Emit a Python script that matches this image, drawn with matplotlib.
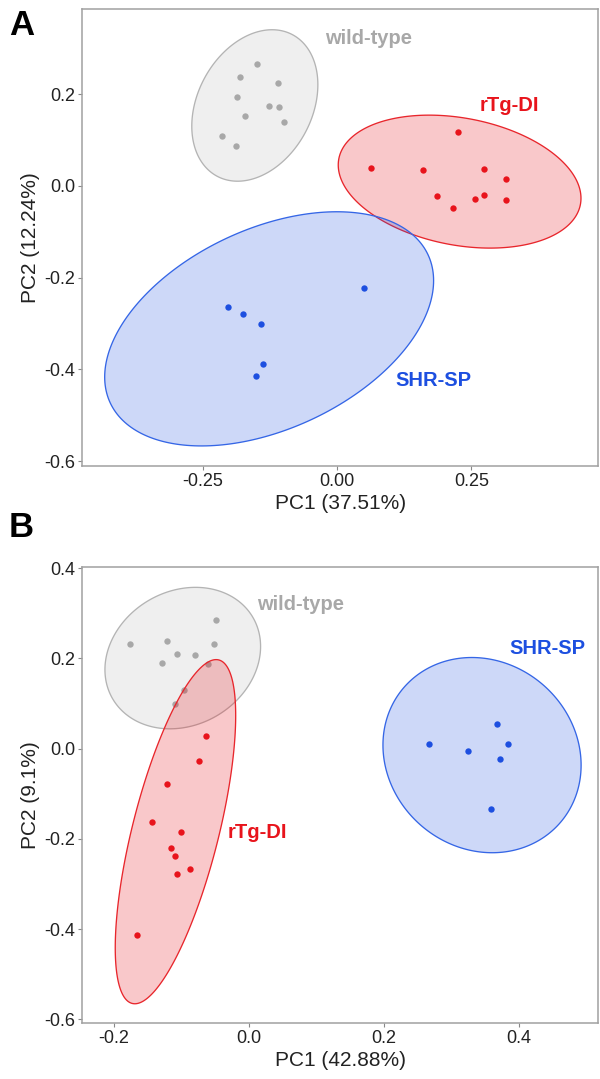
import numpy as np
import matplotlib
matplotlib.use("Agg")
import matplotlib.pyplot as plt
from matplotlib.colors import to_rgba

plt.rcParams["font.family"] = ["Liberation Sans", "DejaVu Sans"]

# Panel A (PC1 37.51%, PC2 12.24%)
a_wt_x = [-0.149, -0.181, -0.110, -0.186, -0.127, -0.109, -0.172, -0.099, -0.214, -0.188]
a_wt_y = [0.265, 0.237, 0.224, 0.194, 0.175, 0.172, 0.152, 0.139, 0.109, 0.086]
a_rtg_x = [0.225, 0.062, 0.160, 0.274, 0.314, 0.185, 0.256, 0.274, 0.314, 0.215]
a_rtg_y = [0.118, 0.038, 0.034, 0.036, 0.016, -0.022, -0.028, -0.019, -0.031, -0.049]
a_shr_x = [0.050, -0.204, -0.175, -0.142, -0.138, -0.152]
a_shr_y = [-0.222, -0.264, -0.279, -0.301, -0.389, -0.415]

# Panel B (PC1 42.88%, PC2 9.1%)
b_wt_x = [-0.049, -0.176, -0.122, -0.052, -0.107, -0.080, -0.129, -0.061, -0.096, -0.109]
b_wt_y = [0.285, 0.231, 0.238, 0.231, 0.209, 0.207, 0.190, 0.188, 0.129, 0.100]
b_rtg_x = [-0.064, -0.074, -0.122, -0.143, -0.100, -0.116, -0.110, -0.088, -0.106, -0.166]
b_rtg_y = [0.028, -0.027, -0.078, -0.162, -0.184, -0.221, -0.239, -0.266, -0.279, -0.413]
b_shr_x = [0.367, 0.267, 0.324, 0.383, 0.371, 0.358]
b_shr_y = [0.055, 0.010, -0.005, 0.010, -0.023, -0.133]

groups = ["wild-type", "rTg-DI", "SHR-SP"]
point_col = {"wild-type": "#a8a8a8", "rTg-DI": "#e8141c", "SHR-SP": "#1d4fe0"}
edge_col = {"wild-type": "#b4b4b4", "rTg-DI": "#e8262c", "SHR-SP": "#3566e6"}
fill_alpha = {"wild-type": 0.18, "rTg-DI": 0.23, "SHR-SP": 0.22}


def conf_ellipse(x, y, level=0.95, n_seg=240):
    # same idea as ggplot2 stat_ellipse (F based radius)
    pts = np.column_stack([x, y])
    n = len(pts)
    center = pts.mean(axis=0)
    cov = np.cov(pts, rowvar=False)
    d = n - 1
    q = d / 2 * ((1 - level) ** (-2 / d) - 1)
    radius = np.sqrt(2 * q)
    chol = np.linalg.cholesky(cov).T
    t = np.linspace(0, 2 * np.pi, n_seg, endpoint=False)
    circle = np.column_stack([np.cos(t), np.sin(t)])
    return center + radius * circle @ chol


def panel(ax, data, xlim, ylim, xticks, xticklabels, yticks, xlabel, ylabel, labels):
    for g in groups:
        x, y = data[g]
        ax.scatter(x, y, s=21, color=point_col[g], zorder=2, linewidths=0)
    for g in groups:
        x, y = data[g]
        e = conf_ellipse(x, y)
        ax.fill(e[:, 0], e[:, 1], facecolor=to_rgba(point_col[g], fill_alpha[g]),
                edgecolor=edge_col[g], lw=0.95, joinstyle="round", zorder=3)
    for g, (tx, ty) in labels.items():
        ax.text(tx, ty, g, color=point_col[g], fontsize=14.5, fontweight="bold",
                ha="center", va="center", zorder=5)
    ax.set_xlim(xlim)
    ax.set_ylim(ylim)
    ax.set_xticks(xticks)
    ax.set_xticklabels(xticklabels)
    ax.set_yticks(yticks)
    ax.set_yticklabels([f"{v:.1f}" for v in yticks])
    ax.set_xlabel(xlabel, fontsize=15, color="#222222", labelpad=3)
    ax.set_ylabel(ylabel, fontsize=15, color="#222222", labelpad=3)
    ax.tick_params(labelsize=13, labelcolor="#222222", color="#888888", length=3, width=0.8, pad=2)
    for s in ax.spines.values():
        s.set_color("#a0a0a0")
        s.set_linewidth(1.1)


fig = plt.figure(figsize=(6, 10.79), dpi=100)
ax1 = fig.add_axes([0.137, 0.5684, 0.860, 0.4230])
ax2 = fig.add_axes([0.137, 0.0516, 0.860, 0.4226])

panel(ax1,
      {"wild-type": (a_wt_x, a_wt_y), "rTg-DI": (a_rtg_x, a_rtg_y), "SHR-SP": (a_shr_x, a_shr_y)},
      (-0.475, 0.486), (-0.610, 0.385),
      [-0.25, 0.0, 0.25], ["-0.25", "0.00", "0.25"],
      [-0.6, -0.4, -0.2, 0.0, 0.2],
      "PC1 (37.51%)", "PC2 (12.24%)",
      {"wild-type": (0.059, 0.321), "rTg-DI": (0.321, 0.175), "SHR-SP": (0.180, -0.425)})

panel(ax2,
      {"wild-type": (b_wt_x, b_wt_y), "rTg-DI": (b_rtg_x, b_rtg_y), "SHR-SP": (b_shr_x, b_shr_y)},
      (-0.247, 0.517), (-0.609, 0.402),
      [-0.2, 0.0, 0.2, 0.4], ["-0.2", "0.0", "0.2", "0.4"],
      [-0.6, -0.4, -0.2, 0.0, 0.2, 0.4],
      "PC1 (42.88%)", "PC2 (9.1%)",
      {"wild-type": (0.077, 0.320), "rTg-DI": (0.012, -0.186), "SHR-SP": (0.442, 0.2225)})

fig.text(0.015, 0.976, "A", fontsize=25, fontweight="bold", va="center", ha="left")
fig.text(0.015, 0.511, "B", fontsize=25, fontweight="bold", va="center", ha="left")

fig.savefig("out.png", dpi=100)
